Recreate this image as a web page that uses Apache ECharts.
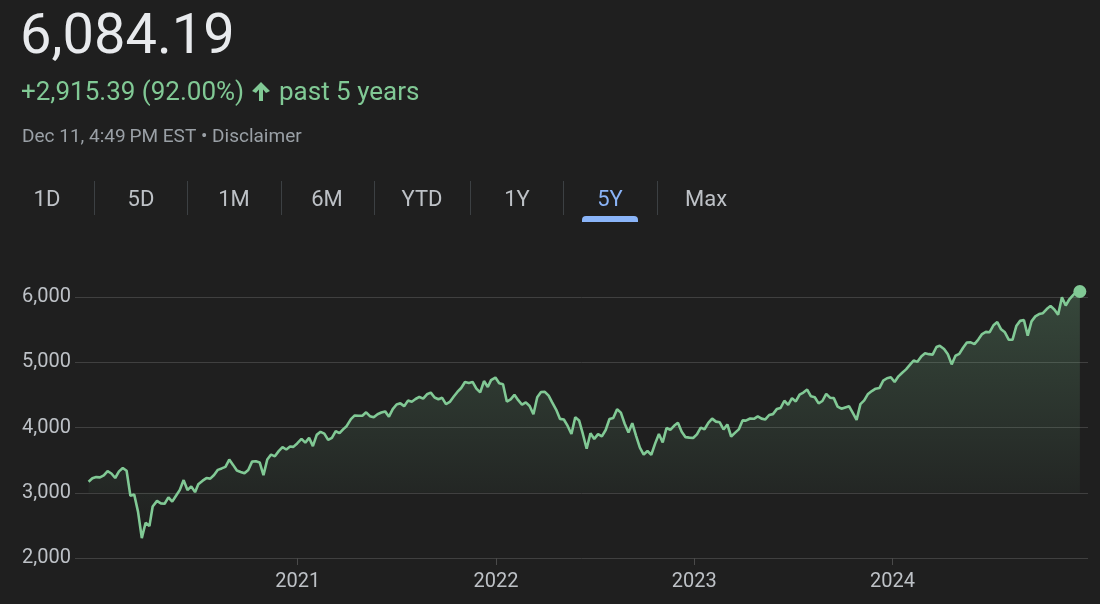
<!DOCTYPE html>
<html>
<head>
<meta charset="utf-8">
<script src="https://cdn.jsdelivr.net/npm/echarts@6/dist/echarts.min.js"></script>
<style>
html,body{margin:0;padding:0;background:#1f1f1f;}
#chart{width:1100px;height:604px;}
</style>
</head>
<body>
<div id="chart"></div>
<script>
// ---- Data (weekly closes) ----
const dates = [
'2019-12-13','2019-12-20','2019-12-27',
'2020-01-03','2020-01-10','2020-01-17','2020-01-24','2020-01-31',
'2020-02-07','2020-02-14','2020-02-21','2020-02-28',
'2020-03-06','2020-03-13','2020-03-20','2020-03-27',
'2020-04-03','2020-04-09','2020-04-17','2020-04-24',
'2020-05-01','2020-05-08','2020-05-15','2020-05-22','2020-05-29',
'2020-06-05','2020-06-12','2020-06-19','2020-06-26',
'2020-07-02','2020-07-10','2020-07-17','2020-07-24','2020-07-31',
'2020-08-07','2020-08-14','2020-08-21','2020-08-28',
'2020-09-04','2020-09-11','2020-09-18','2020-09-25',
'2020-10-02','2020-10-09','2020-10-16','2020-10-23','2020-10-30',
'2020-11-06','2020-11-13','2020-11-20','2020-11-27',
'2020-12-04','2020-12-11','2020-12-18','2020-12-24','2020-12-31',
'2021-01-08','2021-01-15','2021-01-22','2021-01-29',
'2021-02-05','2021-02-12','2021-02-19','2021-02-26',
'2021-03-05','2021-03-12','2021-03-19','2021-03-26',
'2021-04-01','2021-04-09','2021-04-16','2021-04-23','2021-04-30',
'2021-05-07','2021-05-14','2021-05-21','2021-05-28',
'2021-06-04','2021-06-11','2021-06-18','2021-06-25',
'2021-07-02','2021-07-09','2021-07-16','2021-07-23','2021-07-30',
'2021-08-06','2021-08-13','2021-08-20','2021-08-27',
'2021-09-03','2021-09-10','2021-09-17','2021-09-24',
'2021-10-01','2021-10-08','2021-10-15','2021-10-22','2021-10-29',
'2021-11-05','2021-11-12','2021-11-19','2021-11-26',
'2021-12-03','2021-12-10','2021-12-17','2021-12-23','2021-12-31',
'2022-01-07','2022-01-14','2022-01-21','2022-01-28',
'2022-02-04','2022-02-11','2022-02-18','2022-02-25',
'2022-03-04','2022-03-11','2022-03-18','2022-03-25',
'2022-04-01','2022-04-08','2022-04-14','2022-04-22','2022-04-29',
'2022-05-06','2022-05-13','2022-05-20','2022-05-27',
'2022-06-03','2022-06-10','2022-06-17','2022-06-24',
'2022-07-01','2022-07-08','2022-07-15','2022-07-22','2022-07-29',
'2022-08-05','2022-08-12','2022-08-19','2022-08-26',
'2022-09-02','2022-09-09','2022-09-16','2022-09-23','2022-09-30',
'2022-10-07','2022-10-14','2022-10-21','2022-10-28',
'2022-11-04','2022-11-11','2022-11-18','2022-11-25',
'2022-12-02','2022-12-09','2022-12-16','2022-12-23','2022-12-30',
'2023-01-06','2023-01-13','2023-01-20','2023-01-27',
'2023-02-03','2023-02-10','2023-02-17','2023-02-24',
'2023-03-03','2023-03-10','2023-03-17','2023-03-24','2023-03-31',
'2023-04-06','2023-04-14','2023-04-21','2023-04-28',
'2023-05-05','2023-05-12','2023-05-19','2023-05-26',
'2023-06-02','2023-06-09','2023-06-16','2023-06-23','2023-06-30',
'2023-07-07','2023-07-14','2023-07-21','2023-07-28',
'2023-08-04','2023-08-11','2023-08-18','2023-08-25',
'2023-09-01','2023-09-08','2023-09-15','2023-09-22','2023-09-29',
'2023-10-06','2023-10-13','2023-10-20','2023-10-27',
'2023-11-03','2023-11-10','2023-11-17','2023-11-24',
'2023-12-01','2023-12-08','2023-12-15','2023-12-22','2023-12-29',
'2024-01-05','2024-01-12','2024-01-19','2024-01-26',
'2024-02-02','2024-02-09','2024-02-16','2024-02-23',
'2024-03-01','2024-03-08','2024-03-15','2024-03-22','2024-03-28',
'2024-04-05','2024-04-12','2024-04-19','2024-04-26',
'2024-05-03','2024-05-10','2024-05-17','2024-05-24','2024-05-31',
'2024-06-07','2024-06-14','2024-06-21','2024-06-28',
'2024-07-05','2024-07-12','2024-07-19','2024-07-26',
'2024-08-02','2024-08-09','2024-08-16','2024-08-23','2024-08-30',
'2024-09-06','2024-09-13','2024-09-20','2024-09-27',
'2024-10-04','2024-10-11','2024-10-18','2024-10-25',
'2024-11-01','2024-11-08','2024-11-15','2024-11-22','2024-11-29',
'2024-12-06','2024-12-11'
];
const closes = [
3169,3221,3240,
3235,3265,3330,3295,3226,
3328,3380,3338,2954,
2972,2711,2305,2541,
2489,2790,2875,2837,
2831,2930,2864,2955,3044,
3194,3041,3098,3009,
3130,3185,3225,3216,3271,
3351,3373,3397,3508,
3427,3341,3319,3298,
3348,3477,3483,3465,3270,
3509,3585,3558,3638,
3699,3663,3709,3703,3756,
3825,3768,3841,3714,
3887,3934,3907,3811,
3842,3943,3913,3975,
4020,4129,4185,4180,4181,
4233,4174,4156,4204,
4230,4247,4166,4281,
4352,4370,4327,4412,4395,
4437,4468,4442,4509,
4535,4459,4433,4455,
4357,4391,4471,4545,4605,
4697,4683,4698,4595,
4538,4712,4620,4726,4766,
4677,4663,4398,4432,
4501,4419,4349,4385,
4329,4204,4463,4543,
4546,4488,4393,4272,4132,
4123,4024,3901,4158,
4109,3901,3675,3912,
3825,3899,3863,3962,4130,
4145,4280,4228,4058,
3924,4067,3873,3693,3586,
3640,3583,3753,3901,
3771,3993,3965,4026,
4072,3934,3852,3845,3840,
3895,3999,3973,4071,
4136,4090,4079,3970,
4046,3862,3917,3971,4109,
4105,4138,4133,4169,
4136,4124,4192,4205,
4282,4299,4410,4348,4450,
4399,4505,4536,4582,
4478,4464,4370,4406,
4515,4457,4450,4320,4288,
4308,4327,4224,4117,
4358,4415,4514,4559,
4595,4604,4719,4755,4770,
4697,4784,4840,4891,
4959,5027,5006,5089,
5137,5124,5117,5234,5254,
5204,5123,4967,5100,
5128,5223,5303,5305,5278,
5347,5432,5465,5460,
5567,5615,5505,5459,
5346,5344,5554,5634,5648,
5408,5626,5703,5738,
5751,5815,5864,5808,
5729,5995,5870,5969,6032,
6090,6084.19
];
const yearTicks = ['2021-01-01','2022-01-01','2023-01-01','2024-01-01'];
const tabs = ['1D','5D','1M','6M','YTD','1Y','5Y','Max'];
const activeTab = '5Y';
const headline = '6,084.19';
const changeText = '+2,915.39 (92.00%)';
const periodText = 'past 5 years';
const stampText = 'Dec 11, 4:49\u2009PM EST \u2022 Disclaimer';

// ---- Build ----
const FONT = 'Roboto, "Noto Sans", sans-serif';
const GREEN = '#81c995';
const seriesData = dates.map((d, i) => [d, closes[i]]);
const lastPoint = seriesData[seriesData.length - 1];
const tickVals = yearTicks.map(s => { const p = s.split('-'); return new Date(+p[0], +p[1]-1, +p[2]).getTime(); });

const tabCenters = [47, 141, 234, 327, 422, 517, 610, 706];
const sepXs = [94, 187, 281, 374, 470, 563, 657];

const graphics = [
  { type: 'text', left: 20, top: 11, style: { text: headline, font: '56px ' + FONT, fill: '#e8eaed' } },
  { type: 'text', left: 21, top: 80, style: { text: changeText, font: '26px ' + FONT, fill: GREEN } },
  { type: 'polygon', shape: { points: [[261,82],[270,91],[266,93],[263,89.5],[263,101],[259,101],[259,89.5],[256,93],[252,91]] }, style: { fill: GREEN } },
  { type: 'text', left: 279, top: 80, style: { text: periodText, font: '26px ' + FONT, fill: GREEN } },
  { type: 'text', left: 22, top: 128, style: { text: stampText, font: '19px ' + FONT, fill: '#9aa0a6' } }
];
tabs.forEach((t, i) => {
  graphics.push({ type: 'text', x: tabCenters[i], y: 200,
    style: { text: t, font: '22px ' + FONT, fill: t === activeTab ? '#8ab4f8' : '#bdc1c6', align: 'center', verticalAlign: 'middle' } });
});
sepXs.forEach(x => {
  graphics.push({ type: 'line', shape: { x1: x + 0.5, y1: 181, x2: x + 0.5, y2: 215 }, style: { stroke: '#3c4043', lineWidth: 1 } });
});
const ai = tabs.indexOf(activeTab);
graphics.push({ type: 'rect', shape: { x: tabCenters[ai] - 28, y: 216, width: 56, height: 6, r: [4,4,0,0] }, style: { fill: '#8ab4f8' } });

const chart = echarts.init(document.getElementById('chart'));
chart.setOption({
  backgroundColor: '#1f1f1f',
  animation: false,
  textStyle: { fontFamily: FONT },
  graphic: graphics,
  grid: { left: 75, right: 12, top: 297, bottom: 46 },
  xAxis: {
    type: 'time',
    min: '2019-11-18',
    max: '2024-12-26',
    axisLine: { show: false },
    splitLine: { show: false },
    axisTick: { show: true, customValues: tickVals, length: 7, lineStyle: { color: '#4a4a4a', width: 1 } },
    axisLabel: { customValues: tickVals, formatter: '{yyyy}', color: '#bdc1c6', fontSize: 20, margin: 14, fontFamily: FONT }
  },
  yAxis: {
    type: 'value',
    min: 2000,
    max: 6000,
    interval: 1000,
    axisLine: { show: false },
    axisTick: { show: false },
    splitLine: { lineStyle: { color: '#404040', width: 1 } },
    axisLabel: { color: '#bdc1c6', fontSize: 20, margin: 4, fontFamily: FONT,
      formatter: v => v.toLocaleString('en-US') }
  },
  series: [
    {
      type: 'line',
      data: seriesData,
      showSymbol: false,
      clip: false,
      lineStyle: { color: GREEN, width: 2.6 },
      areaStyle: {
        origin: 3000,
        color: new echarts.graphic.LinearGradient(0, 0, 0, 1, [
          { offset: 0, color: 'rgba(129,201,149,0.34)' },
          { offset: 1, color: 'rgba(129,201,149,0.0)' }
        ])
      }
    },
    {
      type: 'scatter',
      data: [lastPoint],
      symbolSize: 13,
      clip: false,
      itemStyle: { color: GREEN, opacity: 1 }
    }
  ]
});
</script>
</body>
</html>
